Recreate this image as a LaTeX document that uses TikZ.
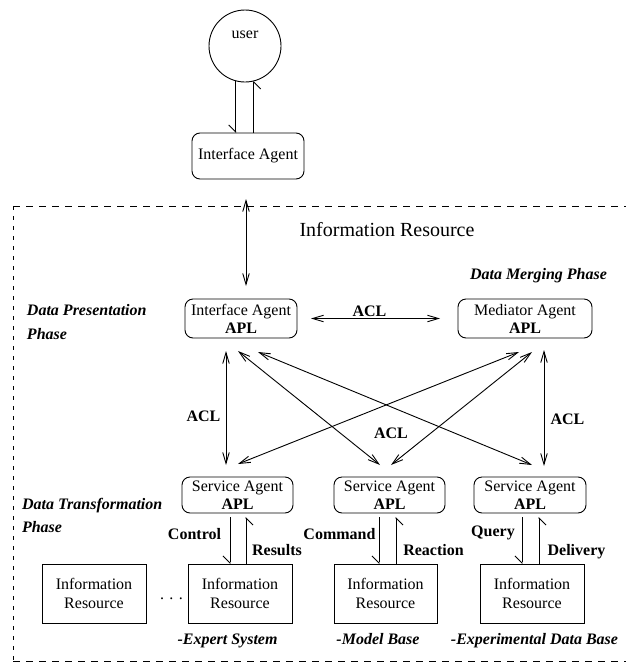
\documentclass[tikz,border=0pt]{standalone}
\usepackage{fontspec}
\setmainfont{Liberation Serif}
\usetikzlibrary{arrows.meta,calc}
\begin{document}
\begin{tikzpicture}[x=1pt,y=-1pt,
  every node/.style={inner sep=0pt, outer sep=0pt},
  txt/.style={font=\fontsize{16}{19}\selectfont},
  lbl/.style={font=\fontsize{16}{19}\selectfont\bfseries, anchor=base},
  phase/.style={font=\fontsize{16}{19}\selectfont\bfseries\itshape, anchor=base west},
  kind/.style={font=\fontsize{16}{19}\selectfont\bfseries\itshape, anchor=base},
  agent/.style={draw, line width=0.9pt, rounded corners=8pt, align=center,
    font=\fontsize{16}{18}\selectfont, minimum height=39pt},
  resbox/.style={draw, line width=0.9pt, align=center,
    font=\fontsize{16}{19}\selectfont, minimum width=104pt, minimum height=59pt},
  dbl/.style={line width=0.9pt,
    {Straight Barb[length=11pt,width=6.5pt]}-{Straight Barb[length=11pt,width=6.5pt]}},
  half/.style={line width=0.9pt, -{Straight Barb[harpoon,swap,length=7pt,width=14pt]}},
  frame/.style={line width=0.8pt}
]
\useasboundingbox (0,0) rectangle (626,664);

% user and the outer interface agent
\node[draw, circle, line width=0.9pt, minimum size=72pt] (user) at (245,46) {};
\node[txt, anchor=base] (usertxt) at (245,38.6) {user};
\node[agent, minimum width=112pt, minimum height=46pt] (ia0) at (248,156) {Interface Agent};

% information resource frame
\draw[frame, dash pattern=on 6.5pt off 6.5pt] (13,206) -- (626,206);
\draw[frame, dash pattern=on 6.5pt off 6.5pt] (13,661) -- (626,661);
\draw[frame, dash pattern=on 3.5pt off 6.5pt] (13,206) -- (13,661);
\node[font=\fontsize{20}{24}\selectfont, anchor=base] (title) at (387,236.6) {Information Resource};

% phase labels
\node[phase] (pres1) at (27,315.3) {Data Presentation};
\node[phase] (pres2) at (27,339.3) {Phase};
\node[phase] (merge) at (470,279.3) {Data Merging Phase};
\node[phase] (trans1) at (22,509.3) {Data Transformation};
\node[phase] (trans2) at (22,532.3) {Phase};

% agents
\node[agent, minimum width=112pt] (ia) at (241,318.5) {Interface Agent\\\textbf{APL}};
\node[agent, minimum width=134pt] (med) at (525,318.5) {Mediator Agent\\\textbf{APL}};
\node[agent, minimum width=111pt, minimum height=36pt] (sa1) at (237.5,495) {Service Agent\\\textbf{APL}};
\node[agent, minimum width=111pt, minimum height=36pt] (sa2) at (389.5,495) {Service Agent\\\textbf{APL}};
\node[agent, minimum width=112pt, minimum height=36pt] (sa3) at (530,495) {Service Agent\\\textbf{APL}};

% information resources
\node[resbox] (ir0) at (94,593.5) {Information\\Resource};
\node[resbox] (ir1) at (240,593.5) {Information\\Resource};
\node[resbox, minimum width=103pt] (ir2) at (385.5,593.5) {Information\\Resource};
\node[resbox] (ir3) at (532,593.5) {Information\\Resource};
\node[txt, anchor=base] (dots) at (171.5,599) {.\,\,.\,\,.};

\node[kind] (k1) at (227.5,644.3) {-Expert System};
\node[kind] (k2) at (378,644.3) {-Model Base};
\node[kind] (k3) at (534.5,644.3) {-Experimental Data Base};

% user <-> interface agent
\draw[half] (user.255.5) -- (user.255.5 |- ia0.north);
\draw[half] (user.284.5 |- ia0.north) -- (user.284.5);
\draw[dbl] ($(ia0.south)+(-2,20)$) -- ($(ia.north)+(5,-13)$);

% ACL links between agents
\draw[dbl] ($(ia.east)+(14,0)$) -- ($(med.west)+(-18,0)$);
\draw[dbl] ($(ia.south)+(-15,13)$) -- ($(sa1.north)+(-11.5,-12)$);
\draw[dbl] ($(ia.south)+(-3,13)$) -- ($(sa2.north)+(-9.5,-12)$);
\draw[dbl] ($(ia.south)+(17,14)$) -- ($(sa3.north)+(2,-12)$);
\draw[dbl] ($(med.south)+(-6,14)$) -- ($(sa1.north)+(0.5,-13)$);
\draw[dbl] ($(med.south)+(7,14)$) -- ($(sa2.north)+(1.5,-12)$);
\draw[dbl] ($(med.south)+(19,12)$) -- ($(sa3.north)+(14,-11)$);

\node[lbl] (acl1) at (369.5,316.3) {ACL};
\node[lbl] (acl2) at (203.5,421.3) {ACL};
\node[lbl] (acl3) at (391,438.3) {ACL};
\node[lbl] (acl4) at (567.5,424.3) {ACL};

% service agent <-> resource exchanges
\draw[half] ($(sa1.south)+(-7.5,4)$) -- ($(ir1.north)+(-10,0)$);
\draw[half] ($(ir1.north)+(6,0)$) -- ($(sa1.south)+(8.5,4)$);
\draw[half] ($(sa2.south)+(-10.5,4)$) -- ($(ir2.north)+(-6.5,0)$);
\draw[half] ($(ir2.north)+(10.5,0)$) -- ($(sa2.south)+(6.5,4)$);
\draw[half] ($(sa3.south)+(-8,4)$) -- ($(ir3.north)+(-10,0)$);
\draw[half] ($(ir3.north)+(7,0)$) -- ($(sa3.south)+(9,4)$);

\node[lbl] (ctl) at (194.5,539.3) {Control};
\node[lbl] (res) at (277,555.3) {Results};
\node[lbl] (cmd) at (339.5,539.3) {Command};
\node[lbl] (rea) at (433.5,555.3) {Reaction};
\node[lbl] (qry) at (493,536.3) {Query};
\node[lbl] (dlv) at (576.5,555.3) {Delivery};
\end{tikzpicture}
\end{document}
